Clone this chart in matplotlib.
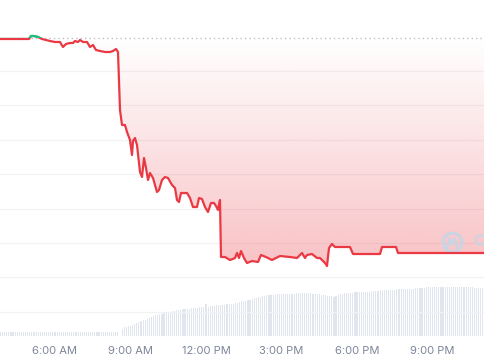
import numpy as np
import matplotlib
matplotlib.use("Agg")
import matplotlib.pyplot as plt
from matplotlib.patches import Rectangle
from matplotlib.path import Path

# ---------------- data ----------------
# time of day in decimal hours, price in chart units (grid lines at integers)
price_time = [3.815, 4.967, 5.047, 5.166, 5.325, 5.484, 5.801, 6.000, 6.199, 6.318,
              6.437, 6.596, 6.715, 6.795, 6.914, 6.993, 7.113, 7.272, 7.391, 7.510,
              7.629, 7.788, 7.987, 8.185, 8.305, 8.424, 8.503, 8.583, 8.662, 8.781,
              8.861, 8.980, 9.059, 9.099, 9.178, 9.258, 9.377, 9.457, 9.536, 9.616,
              9.695, 9.775, 9.894, 10.053, 10.132, 10.251, 10.371, 10.490, 10.649, 10.768,
              10.847, 10.927, 11.006, 11.244, 11.364, 11.483, 11.642, 11.721, 11.840, 11.960,
              12.079, 12.198, 12.317, 12.397, 12.476, 12.555, 12.595, 12.754, 12.953, 13.152,
              13.231, 13.311, 13.390, 13.509, 13.628, 13.827, 14.065, 14.184, 14.383, 14.621,
              14.939, 15.337, 15.615, 15.813, 15.933, 16.012, 16.211, 16.409, 16.529, 16.727,
              16.807, 16.886, 17.005, 17.124, 17.720, 17.840, 18.913, 18.992, 19.548, 19.628,
              23.084]
price_value = [7.913, 7.913, 8.000, 8.000, 7.971, 7.913, 7.855, 7.826, 7.826, 7.681,
               7.768, 7.797, 7.797, 7.855, 7.826, 7.884, 7.826, 7.826, 7.681, 7.739,
               7.594, 7.565, 7.536, 7.536, 7.565, 7.623, 7.536, 5.855, 5.420, 5.420,
               5.217, 4.986, 4.551, 4.957, 5.043, 4.841, 4.058, 3.913, 4.464, 4.174,
               3.826, 4.029, 3.884, 3.478, 3.536, 3.826, 3.913, 3.884, 3.681, 3.594,
               3.246, 3.188, 3.449, 3.449, 3.304, 3.043, 3.043, 3.304, 3.275, 3.043,
               2.899, 3.159, 3.159, 3.072, 2.957, 3.246, 1.594, 1.594, 1.507, 1.565,
               1.710, 1.565, 1.768, 1.565, 1.420, 1.478, 1.449, 1.652, 1.594, 1.507,
               1.623, 1.594, 1.565, 1.710, 1.565, 1.652, 1.681, 1.565, 1.565, 1.420,
               1.333, 1.855, 1.971, 1.884, 1.884, 1.681, 1.681, 1.884, 1.884, 1.710,
               1.710]
open_price = 7.942

# 5-minute volume bars starting 3:50 AM
vol_start = 3.8333
vol_step = 5 / 60
volume = [3.5, 3.5, 3.5, 3.5, 3.5, 3.5, 3.5, 3.5, 3.5, 3.5,
          3.5, 3.5, 3.5, 3.5, 3.5, 3.5, 3.5, 3.5, 3.5, 3.5,
          3.5, 3.5, 3.5, 3.5, 3.5, 3.5, 3.5, 3.5, 3.5, 3.5,
          3.5, 3.5, 3.5, 3.5, 3.5, 3.5, 3.5, 3.5, 3.5, 3.5,
          3.5, 3.5, 3.5, 3.5, 3.5, 3.5, 3.5, 3.5, 3.5, 3.5,
          3.5, 3.5, 3.5, 3.5, 3.5, 3.5, 3.5, 0.0, 6.4, 8.5,
          9.2, 9.7, 10.1, 10.8, 11.5, 12.3, 13.8, 14.9, 15.5, 16.2,
          16.8, 17.8, 18.8, 19.6, 20.3, 21.0, 21.6, 22.2, 22.7, 23.2,
          23.7, 24.1, 24.6, 25.0, 25.4, 25.8, 26.1, 26.4, 26.7, 26.9,
          27.2, 27.4, 27.6, 27.8, 28.0, 28.3, 28.6, 28.9, 31.4, 29.2,
          29.4, 29.8, 30.0, 30.3, 30.6, 30.8, 31.0, 31.2, 31.4, 31.5,
          31.6, 31.8, 32.5, 33.2, 34.0, 34.3, 34.6, 35.0, 35.4, 35.7,
          37.0, 37.6, 38.2, 38.7, 39.1, 39.6, 40.0, 40.3, 40.6, 40.8,
          41.0, 41.1, 41.3, 41.4, 41.5, 41.6, 41.7, 41.8, 41.9, 42.0,
          42.2, 42.4, 42.4, 42.4, 42.5, 42.4, 42.4, 42.3, 42.4, 42.2,
          41.9, 41.6, 41.3, 41.0, 41.0, 40.5, 40.0, 39.6, 39.3, 39.0,
          39.5, 40.5, 41.5, 42.2, 42.5, 42.7, 42.9, 43.0, 43.1, 43.3,
          43.4, 43.5, 43.6, 43.7, 43.8, 43.9, 44.0, 44.3, 44.6, 44.9,
          45.2, 45.4, 45.7, 45.8, 45.9, 45.9, 46.0, 46.1, 46.2, 46.3,
          46.3, 46.4, 46.4, 46.6, 46.8, 46.9, 47.0, 47.2, 47.4, 47.5,
          47.6, 47.8, 48.0, 48.4, 48.8, 49.0, 49.1, 49.1, 49.0, 49.0,
          49.0, 49.0, 49.0, 49.1, 49.2, 49.2, 49.1, 49.0, 49.0, 49.1,
          49.2, 49.0, 48.8, 48.6, 48.5, 48.3, 48.2, 48.1, 48.0, 48.0,
          48.0, 48.0]

tick_hours = [6, 9, 12, 15, 18, 21]
tick_labels = ["6:00 AM", "9:00 AM", "12:00 PM", "3:00 PM", "6:00 PM", "9:00 PM"]
grid_levels = [0, 1, 2, 3, 4, 5, 6, 7]

# ---------------- styling ----------------
RED = "#ea3943"
GREEN = "#16c784"
VOLC = "#e1e6ee"
GRIDC = "#f1f2f4"
TXT = "#7d8699"

plt.rcParams['font.family'] = ['Inter', 'DejaVu Sans']

fig = plt.figure(figsize=(4.85, 3.6), dpi=100)
rect = [0, 20 / 360, 1, 340 / 360]
xlim = (3.815, 23.084)
ylim = (-0.8116, 9.0435)

# volume axes (background)
axv = fig.add_axes(rect)
vt = [vol_start + i * vol_step for i in range(len(volume))]
axv.bar(vt, volume, width=0.045, color=VOLC, align="center", zorder=2)
axv.set_xlim(*xlim)
axv.set_ylim(-4.3, 335.7)
axv.axis("off")

# price axes on top
ax = fig.add_axes(rect)
ax.patch.set_alpha(0)
for s in ax.spines.values():
    s.set_visible(False)
ax.set_yticks([])
for g in grid_levels:
    ax.axhline(g, color=GRIDC, lw=0.9, zorder=1)

t = np.array(price_time)
v = np.array(price_value)

# gradient fill between the line and the open price
poly = ax.fill_between(t, v, open_price, where=v <= open_price, interpolate=True,
                       facecolor="none", edgecolor="none")
clip_path = Path.make_compound_path(*poly.get_paths())
ny = 256
alpha = np.linspace(0.31, 0.0, ny).reshape(-1, 1)
grad = np.zeros((ny, 1, 4))
grad[..., 0] = 234 / 255
grad[..., 1] = 57 / 255
grad[..., 2] = 67 / 255
grad[..., 3] = alpha
im = ax.imshow(grad, extent=[xlim[0], xlim[1], 1.3, open_price], origin="lower",
               aspect="auto", zorder=3, interpolation="bilinear")
im.set_clip_path(clip_path, transform=ax.transData)
ax.set_xlim(*xlim)
ax.set_ylim(*ylim)

# open-price dotted reference
ax.axhline(open_price, color="#b9bec8", lw=1.0, ls=(0, (1, 2.2)), zorder=4)

# price line: red, green where above open
ax.plot(t, v, color=RED, lw=1.6, zorder=6, solid_joinstyle="round")
gl, = ax.plot(t, v, color=GREEN, lw=1.6, zorder=7, solid_joinstyle="round")
clip = Rectangle((xlim[0], open_price), xlim[1] - xlim[0], 5, transform=ax.transData)
gl.set_clip_path(clip)

# watermark (CoinMarketCap logo, cut off at the right edge)
wm = "#cbd4e2"
ax.plot([0.932], [0.289], marker="o", ms=13.5, mfc="none", mec=wm, mew=2.3,
        transform=ax.transAxes, zorder=5)
ax.plot([0.922, 0.927, 0.932, 0.937, 0.942], [0.272, 0.298, 0.281, 0.298, 0.276],
        transform=ax.transAxes, color=wm, lw=2.0, zorder=5, solid_joinstyle="round")
ax.text(0.976, 0.289, "CoinMarketCap", transform=ax.transAxes, color=wm,
        fontsize=12, fontweight="bold", va="center", ha="left", zorder=5, clip_on=False)

ax.set_xticks(tick_hours, tick_labels)
ax.tick_params(axis="x", length=0, pad=4.5, labelsize=8, labelcolor=TXT)

fig.savefig("out.png", dpi=100)
